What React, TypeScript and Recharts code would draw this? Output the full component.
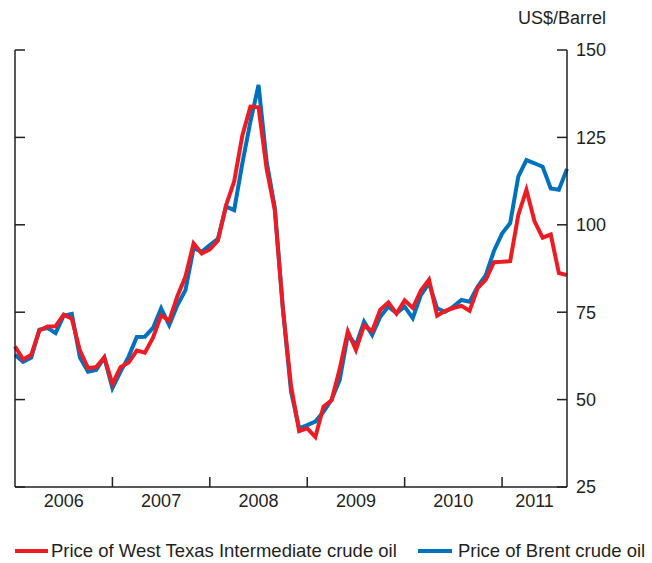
import { LineChart, Line, XAxis, YAxis } from "recharts";

// monthly averages, Jan 2006 .. Sep 2011
const wti = [
  65.2, 61.5, 62.8, 69.8, 70.9, 71.0, 74.3, 73.1, 64.0, 59.0, 59.3, 62.1,
  54.5, 59.3, 60.6, 64.0, 63.4, 67.7, 74.1, 72.6, 79.6, 85.2, 94.7, 91.8,
  93.0, 95.5, 105.6, 112.4, 125.5, 133.8, 133.6, 116.0, 104.2, 76.0, 54.0, 41.0,
  41.8, 39.3, 48.0, 49.8, 58.8, 69.5, 64.2, 71.2, 69.6, 75.7, 77.8, 74.6,
  78.4, 76.2, 81.2, 84.3, 74.0, 75.4, 76.2, 76.8, 75.4, 81.9, 84.3, 89.3,
  89.4, 89.6, 102.8, 110.0, 101.0, 96.3, 97.2, 86.2, 85.6,
];
const brent = [
  62.8, 60.8, 62.0, 70.0, 70.5, 69.0, 74.0, 74.5, 62.0, 58.0, 58.5, 62.0,
  53.3, 58.0, 62.3, 67.9, 68.0, 70.5, 76.1, 71.3, 77.0, 81.3, 93.3, 92.3,
  94.2, 96.0, 105.2, 104.2, 117.5, 129.5, 140.0, 118.0, 105.0, 76.0, 52.3, 41.8,
  42.7, 43.7, 46.5, 50.0, 55.6, 68.5, 65.6, 72.3, 68.5, 73.7, 76.6, 74.7,
  76.6, 73.3, 79.9, 83.3, 76.1, 75.1, 76.6, 78.5, 78.0, 82.3, 85.6, 92.5,
  97.5, 100.5, 113.8, 118.5, 117.6, 116.6, 110.4, 110.0, 116.0,
];
const years = ["2006", "2007", "2008", "2009", "2010", "2011"];
const yearStarts = [12, 24, 36, 48, 60];
const yearMids = [6, 18, 30, 42, 54, 64];
const yTicks = [25, 50, 75, 100, 125, 150];

const data = wti.map((v, i) => ({ month: i, wti: v, brent: brent[i] }));

const ink = "#231f20";
const red = "#ed1c24";
const blue = "#0071bc";
const font = "'Liberation Sans', Arial, sans-serif";
const tickStyle = { fontSize: 18, fill: ink, fontFamily: font };

function yearLabel(value: number) {
  const idx = yearMids.indexOf(value);
  return idx >= 0 ? years[idx] : "";
}

const blank = () => "";

export default function App() {
  return (
    <div style={{ position: "absolute", left: 0, top: 0, width: 652, height: 563, background: "#fff", fontFamily: font, color: ink }}>
      <div style={{ position: "absolute", right: 46, top: 7, fontSize: 18, lineHeight: "22px" }}>US$/Barrel</div>
      <LineChart width={652} height={563} data={data} margin={{ top: 50, right: 0, bottom: 0, left: 15 }}>
        <XAxis
          xAxisId="frame"
          dataKey="month"
          type="number"
          domain={[0, 68]}
          ticks={yearStarts}
          tickFormatter={blank}
          mirror
          tickSize={10}
          stroke={ink}
          strokeWidth={1.5}
          interval={0}
        />
        <XAxis
          xAxisId="years"
          dataKey="month"
          type="number"
          domain={[0, 68]}
          ticks={yearMids}
          tickFormatter={yearLabel}
          height={76}
          axisLine={false}
          tickLine={false}
          tickSize={0}
          tickMargin={7}
          tick={tickStyle}
          interval={0}
        />
        <YAxis
          yAxisId="left"
          orientation="left"
          mirror
          dataKey="brent"
          type="number"
          domain={[25, 150]}
          allowDataOverflow
          ticks={yTicks}
          tickFormatter={blank}
          tickSize={10}
          stroke={ink}
          strokeWidth={1.5}
          interval={0}
        />
        <YAxis
          yAxisId="rightTicks"
          orientation="right"
          mirror
          dataKey="brent"
          type="number"
          domain={[25, 150]}
          allowDataOverflow
          ticks={yTicks}
          tickFormatter={blank}
          tickSize={10}
          axisLine={false}
          stroke={ink}
          strokeWidth={1.5}
          interval={0}
        />
        <YAxis
          yAxisId="right"
          orientation="right"
          width={85}
          type="number"
          domain={[25, 150]}
          ticks={yTicks}
          tickLine={false}
          tickSize={0}
          tickMargin={9}
          tick={tickStyle}
          stroke={ink}
          strokeWidth={1.5}
          interval={0}
        />
        <Line
          xAxisId="frame"
          yAxisId="right"
          dataKey="brent"
          stroke={blue}
          strokeWidth={4}
          dot={false}
          isAnimationActive={false}
          strokeLinejoin="miter"
        />
        <Line
          xAxisId="frame"
          yAxisId="right"
          dataKey="wti"
          stroke={red}
          strokeWidth={4}
          dot={false}
          isAnimationActive={false}
          strokeLinejoin="miter"
        />
      </LineChart>
      <div style={{ position: "absolute", left: 15, top: 540, display: "flex", alignItems: "center", fontSize: 18.5, lineHeight: "22px" }}>
        <span style={{ display: "inline-block", width: 33, height: 4, background: red, marginRight: 3 }} />
        <span>Price of West Texas Intermediate crude oil</span>
      </div>
      <div style={{ position: "absolute", left: 418, top: 540, display: "flex", alignItems: "center", fontSize: 18.5, lineHeight: "22px" }}>
        <span style={{ display: "inline-block", width: 34, height: 4, background: blue, marginRight: 6 }} />
        <span>Price of Brent crude oil</span>
      </div>
    </div>
  );
}
